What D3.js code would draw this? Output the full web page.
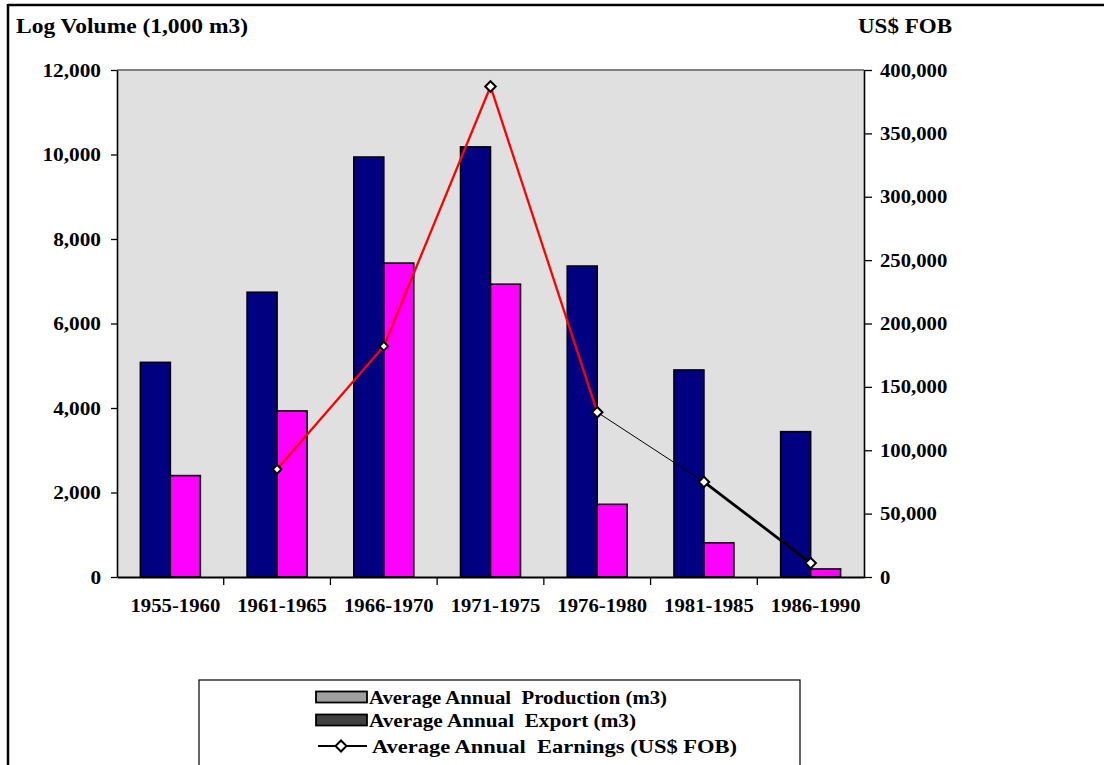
<!DOCTYPE html>
<html>
<head>
<meta charset="utf-8">
<script src="https://cdn.jsdelivr.net/npm/d3@7"></script>
<style>
  html, body { margin: 0; padding: 0; background: #fff; }
  svg { display: block; }
  text { font-family: "Liberation Serif", "Times New Roman", serif; font-weight: bold; fill: #000; }
</style>
</head>
<body>
<svg id="chart" width="1104" height="765"></svg>
<script>
// ---- data ----
const categories = ["1955-1960", "1961-1965", "1966-1970", "1971-1975", "1976-1980", "1981-1985", "1986-1990"];
const production = [5080, 6740, 9940, 10180, 7360, 4900, 3440];   // 1,000 m3
const exports_   = [2400, 3930, 7430, 6930, 1720, 810, 190];       // 1,000 m3
const earnings   = [null, 85000, 182000, 387000, 130000, 75000, 11000]; // US$ FOB
const leftTicks  = [0, 2000, 4000, 6000, 8000, 10000, 12000];
const rightTicks = [0, 50000, 100000, 150000, 200000, 250000, 300000, 350000, 400000];
const seriesNames = ["Average Annual  Production (m3)", "Average Annual  Export (m3)", "Average Annual  Earnings (US$ FOB)"];

// ---- styles ----
const colProd = "#000080", colExp = "#ff00ff";
const segColors = ["#ff0000", "#ff0000", "#ff0000", "#000000", "#000000"];
const segWidths = [2.3, 2.3, 2.3, 1, 2.8];

const svg = d3.select("#chart");
const L = 117, R = 864, T = 70, B = 577;

function stretch(sel, f) {
  sel.each(function () {
    const w = this.getComputedTextLength();
    d3.select(this).attr("textLength", w * f).attr("lengthAdjust", "spacingAndGlyphs");
  });
}
function fitTo(sel, w) {
  sel.attr("textLength", w).attr("lengthAdjust", "spacingAndGlyphs");
}

// frame
svg.append("line").attr("x1", 8).attr("x2", 1104).attr("y1", 5).attr("y2", 5).attr("stroke", "#000").attr("stroke-width", 2.5);
svg.append("line").attr("x1", 8).attr("x2", 8).attr("y1", 4).attr("y2", 765).attr("stroke", "#000").attr("stroke-width", 2.5);

// scales
const x = d3.scaleBand().domain(categories).range([L, R]).paddingInner(0).paddingOuter(0);
const xSub = d3.scaleBand().domain(["p", "e"]).range([0, x.bandwidth()]).paddingInner(0).paddingOuter(0.78);
const yL = d3.scaleLinear().domain([0, 12000]).range([B, T]);
const yR = d3.scaleLinear().domain([0, 400000]).range([B, T]);

// plot area
svg.append("rect").attr("x", L).attr("y", T).attr("width", R - L).attr("height", B - T).attr("fill", "#e0e0e0");
svg.append("line").attr("x1", L).attr("x2", R).attr("y1", T).attr("y2", T).attr("stroke", "#808080").attr("stroke-width", 2);

// bars
const g = svg.append("g");
g.selectAll("rect.p").data(production).join("rect")
  .attr("x", (d, i) => x(categories[i]) + xSub("p"))
  .attr("y", d => yL(d)).attr("width", xSub.bandwidth()).attr("height", d => B - yL(d))
  .attr("fill", colProd).attr("stroke", "#000").attr("stroke-width", 1.6);
g.selectAll("rect.e").data(exports_).join("rect")
  .attr("x", (d, i) => x(categories[i]) + xSub("e"))
  .attr("y", d => yL(d)).attr("width", xSub.bandwidth()).attr("height", d => B - yL(d))
  .attr("fill", colExp).attr("stroke", "#000").attr("stroke-width", 1.6);

// axes
const fmt = d3.format(",");
const axL = svg.append("g").attr("transform", `translate(${L},0)`)
  .call(d3.axisLeft(yL).tickValues(leftTicks).tickFormat(fmt).tickSize(6).tickSizeOuter(0));
const axR = svg.append("g").attr("transform", `translate(${R},0)`)
  .call(d3.axisRight(yR).tickValues(rightTicks).tickFormat(fmt).tickSize(8).tickSizeOuter(0));
const axB = svg.append("g").attr("transform", `translate(0,${B})`)
  .call(d3.axisBottom(x).tickSize(0).tickSizeOuter(0));
[axL, axR, axB].forEach(a => {
  a.select(".domain").attr("stroke", "#000").attr("stroke-width", 1.6);
  a.selectAll(".tick line").attr("stroke", "#000").attr("stroke-width", 1.3);
  a.selectAll("text").attr("font-family", "Liberation Serif").attr("font-weight", "bold").attr("font-size", 19).attr("fill", "#000");
});
axL.selectAll("text").attr("x", -16);
axR.selectAll("text").attr("x", 16);
axB.selectAll("text").attr("x", 5).attr("y", 22).attr("dy", "0.71em");
axB.select(".domain").attr("stroke-width", 1.8);
stretch(axL.selectAll("text"), 1.12);
stretch(axR.selectAll("text"), 1.09);
stretch(axB.selectAll("text"), 1.09);
// category boundary ticks
svg.append("g").selectAll("line").data(categories.slice(1)).join("line")
  .attr("x1", d => x(d)).attr("x2", d => x(d)).attr("y1", B).attr("y2", B + 8)
  .attr("stroke", "#000").attr("stroke-width", 1.3);

// earnings line
const pts = earnings.map((v, i) => v == null ? null : [x(categories[i]) + x.bandwidth() / 2, yR(v)]).filter(p => p);
for (let i = 0; i < pts.length - 1; i++) {
  svg.append("line").attr("x1", pts[i][0]).attr("y1", pts[i][1]).attr("x2", pts[i + 1][0]).attr("y2", pts[i + 1][1])
    .attr("stroke", segColors[i]).attr("stroke-width", segWidths[i]);
}
svg.append("g").selectAll("path").data(pts).join("path")
  .attr("d", (d, i) => d3.symbol(d3.symbolSquare, i < 2 ? 38 : 55)())
  .attr("transform", d => `translate(${d[0]},${d[1]}) rotate(45)`)
  .attr("fill", "#fff").attr("stroke", "#000").attr("stroke-width", 2);

// titles
const t1 = svg.append("text").attr("x", 16).attr("y", 33).attr("font-size", 21).text("Log Volume (1,000 m3)");
fitTo(t1, 232);
const t2 = svg.append("text").attr("x", 858).attr("y", 33).attr("font-size", 21).text("US$ FOB");
fitTo(t2, 94);

// legend
svg.append("rect").attr("x", 199).attr("y", 680).attr("width", 601).attr("height", 100)
  .attr("fill", "#fff").attr("stroke", "#000").attr("stroke-width", 1.2);
const ly = [697, 720, 746];
svg.append("rect").attr("x", 316).attr("y", ly[0] - 5.5).attr("width", 51).attr("height", 11)
  .attr("fill", "#a0a0a0").attr("stroke", "#000").attr("stroke-width", 1.8);
svg.append("rect").attr("x", 316).attr("y", ly[1] - 5.5).attr("width", 51).attr("height", 11)
  .attr("fill", "#404040").attr("stroke", "#000").attr("stroke-width", 1.8);
svg.append("line").attr("x1", 318).attr("x2", 367).attr("y1", ly[2]).attr("y2", ly[2]).attr("stroke", "#000").attr("stroke-width", 2.2);
svg.append("path").attr("d", d3.symbol(d3.symbolSquare, 60))
  .attr("transform", `translate(341,${ly[2]}) rotate(45)`)
  .attr("fill", "#fff").attr("stroke", "#000").attr("stroke-width", 2);
const legX = [369, 369, 372];
const legW = [298, 267, 365];
svg.append("g").selectAll("text").data(seriesNames).join("text")
  .attr("x", (d, i) => legX[i]).attr("y", (d, i) => ly[i]).attr("dy", "0.35em")
  .attr("font-size", 19).style("white-space", "pre").text(d => d)
  .attr("textLength", (d, i) => legW[i]).attr("lengthAdjust", "spacingAndGlyphs");
</script>
</body>
</html>
